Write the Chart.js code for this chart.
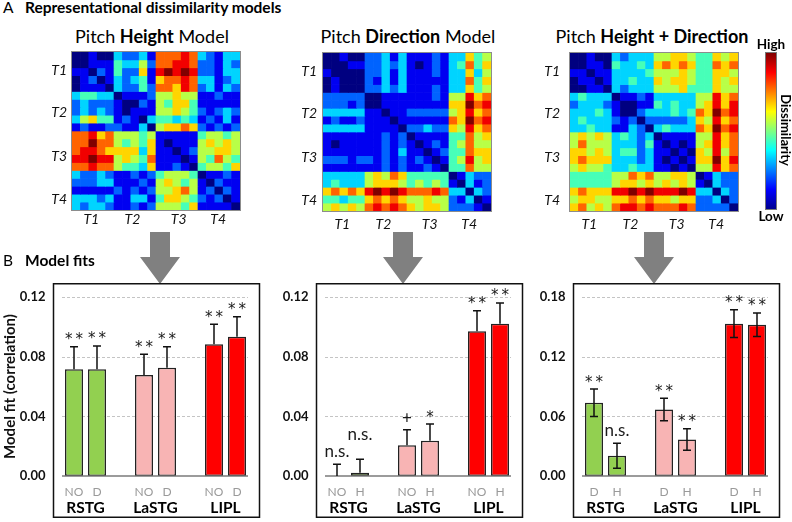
<!DOCTYPE html>
<html>
<head>
<meta charset="utf-8">
<title>Representational dissimilarity models and model fits</title>
<script src="https://cdn.jsdelivr.net/npm/chart.js@4.4.1/dist/chart.umd.min.js"></script>
<style>
  html, body { margin: 0; padding: 0; background: #fff; }
  #fig { position: relative; width: 792px; height: 522px; overflow: hidden; font-family: Lato, "Open Sans", sans-serif; color: #000; }
  #fig > * { position: absolute; }
  .lbl { line-height: 1; white-space: nowrap; }
  .ctr { text-align: center; }
  canvas { display: block; }
</style>
</head>
<body>
<div id="fig">
  <div class="lbl" style="left:3px; top:0px; font-size:15.5px;">A</div>
  <div class="lbl" style="left:25px; top:0px; font-size:15.5px; font-weight:bold;">Representational dissimilarity models</div>

  <div class="lbl ctr" style="left:52px; width:200px; top:27px; font-size:18px;">Pitch <b>Height</b> Model</div>
  <div class="lbl ctr" style="left:308px; width:200px; top:27px; font-size:18px;">Pitch <b>Direction</b> Model</div>
  <div class="lbl ctr" style="left:542px; width:220px; top:27px; font-size:18px;">Pitch <b>Height + Direction</b></div>

  <canvas id="hmHeight" width="210" height="184" style="left:40px; top:48px;"></canvas>
  <canvas id="hmDirection" width="210" height="184" style="left:291px; top:48px;"></canvas>
  <canvas id="hmCombined" width="210" height="184" style="left:538px; top:48px;"></canvas>

  <div class="lbl ctr" style="left:741px; width:60px; top:38px; font-size:13.5px; font-weight:bold;">High</div>
  <div style="left:765px; top:52px; width:12px; height:158px; box-sizing:border-box; border:1px solid #777;
       background:linear-gradient(to top, #00008f 0%, #0000ff 12.5%, #00ffff 37.5%, #ffff00 62.5%, #ff0000 87.5%, #800000 100%);"></div>
  <div class="lbl ctr" style="left:741px; width:60px; top:210px; font-size:13.5px; font-weight:bold;">Low</div>
  <div class="lbl ctr" style="left:735px; width:100px; top:123px; height:14px; font-size:13px; font-weight:bold; transform:rotate(90deg);">Dissimilarity</div>

  <svg width="792" height="522" style="left:0; top:0;">
    <polygon fill="#808080" points="150,232 170,232 170,257 180,257 160,284 140,257 150,257"/>
    <polygon fill="#808080" points="393,232 413,232 413,257 423,257 403,284 383,257 393,257"/>
    <polygon fill="#808080" points="644,232 664,232 664,257 674,257 654,284 634,257 644,257"/>
  </svg>

  <div class="lbl" style="left:3px; top:253px; font-size:15.5px;">B</div>
  <div class="lbl" style="left:25px; top:253px; font-size:15.5px; font-weight:bold;">Model fits</div>

  <canvas id="fitHeight" width="262" height="236" style="left:0px; top:283px;"></canvas>
  <canvas id="fitDirection" width="262" height="236" style="left:263px; top:283px;"></canvas>
  <canvas id="fitCombined" width="262" height="236" style="left:520px; top:283px;"></canvas>
</div>

<script>
// ---- Panel A: model RDMs, dissimilarity level 0 (low) .. 9 (high), one string per row ----
const blockLabels = ['T1', 'T2', 'T3', 'T4'];
const blockTickX = [2.3, 7.2, 12.7, 17.4];   // cells from the left edge
const blockTickY = [2.4, 7.6, 13.2, 18.7];   // cells from the top edge
const levelMax = 9;

const heightRows = [
  '00100322317778732133',
  '00111433527788722132',
  '11021422618989822133',
  '01201323416778733123',
  '01110322427768723132',
  '34433011125565511211',
  '23222100215466411111',
  '23232101115565421232',
  '35644121034434312131',
  '12112211305667621212',
  '77867555451111145545',
  '77977545461011156565',
  '78876666361101255665',
  '88988565471110154754',
  '77877544361121045546',
  '32232112124555401121',
  '22233111215654510211',
  '11111212125567512021',
  '33323113314665421201',
  '32332112125554611110'
];

const directionRows = [
  '00100223131112133645',
  '00011223231012134746',
  '10000223131112133635',
  '01000213131111133746',
  '01000223231112133645',
  '22222001111112155867',
  '22212001111111166978',
  '33333110112222256867',
  '12112111011111176978',
  '33333111102232265867',
  '11111112120111144756',
  '10111112121012145755',
  '11111112131101244766',
  '22212212121210145856',
  '11111112121121044755',
  '33333565764444401322',
  '34333566654545410312',
  '67676898987778733032',
  '44344676765565521301',
  '56565787876566522210'
];

const combinedRows = [
  '00100323335566544656',
  '00110433436767644767',
  '11011333345556544665',
  '01101334336566544656',
  '00110323335556444655',
  '34333011213333355867',
  '23332100114343356868',
  '33343100233343476978',
  '34333212022222365867',
  '33433113203433376978',
  '56565343230111155867',
  '57555333241010156867',
  '66565344231101065857',
  '67666333231010166968',
  '56554334331101055867',
  '44444557675566501322',
  '44444566565656510322',
  '67666889898889833032',
  '56655667676656622302',
  '67565788787778722220'
];

// ---- Panel B: model fits (correlation) ----
const regions = ['RSTG', 'LaSTG', 'LIPL'];
const regionColors = ['#92D050', '#F8B4B4', '#FF0000'];

const heightSub = ['NO', 'D'];
const heightFit = [[0.0715, 0.0677, 0.0883], [0.0715, 0.0726, 0.0934]];
const heightErr = [[0.0152, 0.0139, 0.0134], [0.0157, 0.0141, 0.0134]];
const heightSig = [['**', '**', '**'], ['**', '**', '**']];

const directionSub = ['NO', 'H'];
const directionFit = [[0.0, 0.0206, 0.0971], [0.0022, 0.0236, 0.1021]];
const directionErr = [[0.0079, 0.0104, 0.0137], [0.0090, 0.0112, 0.0139]];
const directionSig = [['n.s.', '+', '**'], ['n.s.', '*', '**']];

const combinedSub = ['D', 'H'];
const combinedFit = [[0.0736, 0.0669, 0.1532], [0.0204, 0.0368, 0.1522]];
const combinedErr = [[0.0138, 0.0114, 0.0139], [0.0125, 0.0108, 0.0118]];
const combinedSig = [['**', '**', '**'], ['n.s.', '**', '**']];

// ---------------------------------------------------------------

function jet(v) {
  const c = x => Math.round(255 * Math.min(1, Math.max(0, x)));
  return 'rgb(' + c(1.5 - Math.abs(4 * v - 3)) + ',' + c(1.5 - Math.abs(4 * v - 2)) + ',' + c(1.5 - Math.abs(4 * v - 1)) + ')';
}

const heatLabels = {
  id: 'heatLabels',
  afterDraw(chart, args, opts) {
    const { ctx, chartArea: a, scales: { x, y } } = chart;
    ctx.save();
    ctx.strokeStyle = '#8c8c8c';
    ctx.lineWidth = 1;
    ctx.strokeRect(a.left - 0.5, a.top - 0.5, a.width + 1, a.height + 1);
    ctx.fillStyle = '#111';
    ctx.font = 'italic 14px Lato';
    ctx.textBaseline = 'middle';
    ctx.textAlign = 'center';
    blockLabels.forEach((t, i) => ctx.fillText(t, x.getPixelForValue(blockTickX[i] - 0.5), a.bottom + opts.xGap));
    ctx.textAlign = 'right';
    blockLabels.forEach((t, i) => ctx.fillText(t, a.left - opts.yGap, y.getPixelForValue(blockTickY[i])));
    ctx.restore();
  }
};

function heatmap(id, rows, pad, xGap, yGap) {
  new Chart(document.getElementById(id), {
    type: 'bar',
    data: {
      labels: rows[0].split('').map((_, j) => j + 1),
      datasets: rows.map((row, r) => ({
        data: row.split('').map(() => [r, r + 1]),
        backgroundColor: row.split('').map(d => jet(Number(d) / levelMax)),
        borderWidth: 0,
        grouped: false,
        barPercentage: 1,
        categoryPercentage: 1
      }))
    },
    options: {
      responsive: false,
      animation: false,
      layout: { padding: pad },
      plugins: { legend: { display: false }, tooltip: { enabled: false }, heatLabels: { xGap: xGap, yGap: yGap } },
      scales: {
        x: { display: false, offset: true },
        y: { display: false, min: 0, max: rows.length, reverse: true }
      }
    },
    plugins: [heatLabels]
  });
}

heatmap('hmHeight', heightRows, { left: 32, top: 4, right: 10, bottom: 22 }, 9, 5);
heatmap('hmDirection', directionRows, { left: 32, top: 5, right: 10, bottom: 21 }, 13, 6);
heatmap('hmCombined', combinedRows, { left: 32, top: 5, right: 10, bottom: 21 }, 13, 10);

// look of each significance mark: font and baseline lift above its error bar
const markStyle = {
  '**': { font: '15px "DejaVu Sans"', lift: 2.5 },
  '*': { font: '15px "DejaVu Sans"', lift: 2.5 },
  '+': { font: '17px Lato', lift: 5.5 },
  'n.s.': { font: '17px Lato', lift: 7 }
};

function barSpan(chart) {
  let lo = Infinity, hi = -Infinity;
  chart.data.datasets.forEach((d, k) => chart.getDatasetMeta(k).data.forEach(b => {
    lo = Math.min(lo, b.x - b.width / 2);
    hi = Math.max(hi, b.x + b.width / 2);
  }));
  return [lo - 3, hi + 2];
}

const fitExtras = {
  id: 'fitExtras',
  beforeDatasetsDraw(chart) {
    const { ctx, scales: { y } } = chart;
    const [left, right] = barSpan(chart);
    ctx.save();
    ctx.strokeStyle = '#c4c4c4';
    ctx.lineWidth = 1;
    ctx.setLineDash([3, 2]);
    y.ticks.forEach(t => {
      if (t.value <= 0) return;
      const py = Math.round(y.getPixelForValue(t.value)) + 0.5;
      ctx.beginPath();
      ctx.moveTo(left, py);
      ctx.lineTo(right, py);
      ctx.stroke();
    });
    ctx.restore();
  },
  afterDatasetsDraw(chart, args, o) {
    const { ctx, chartArea: a, scales: { x, y } } = chart;
    const [left, right] = barSpan(chart);
    ctx.save();
    const y0 = y.getPixelForValue(0);
    ctx.strokeStyle = '#7a7a7a';
    ctx.lineWidth = 1.5;
    ctx.beginPath();
    ctx.moveTo(left, y0);
    ctx.lineTo(right, y0);
    ctx.stroke();

    const placed = [];   // marks already drawn, per region
    chart.data.datasets.forEach((ds, k) => {
      chart.getDatasetMeta(k).data.forEach((bar, i) => {
        const v = ds.data[i], e = o.errors[k][i];
        const top = y.getPixelForValue(v + e);
        const bot = y.getPixelForValue(o.twoSided ? v - e : v);
        ctx.strokeStyle = '#111';
        ctx.lineWidth = 1.5;
        ctx.beginPath();
        ctx.moveTo(bar.x, bot);
        ctx.lineTo(bar.x, top);
        ctx.moveTo(bar.x - 4, top);
        ctx.lineTo(bar.x + 4, top);
        if (o.twoSided) {
          ctx.moveTo(bar.x - 4, bot);
          ctx.lineTo(bar.x + 4, bot);
        }
        ctx.stroke();

        const m = o.marks[k][i];
        const st = markStyle[m];
        const txt = m === '**' ? '*\u2009*' : m;
        ctx.fillStyle = '#1a1a1a';
        ctx.font = st.font;
        ctx.textAlign = 'center';
        ctx.textBaseline = 'alphabetic';
        const w = ctx.measureText(txt).width;
        let by = top - st.lift;
        const prev = placed[i];
        if (prev && Math.abs(prev.x - bar.x) < (prev.w + w) / 2 + 2 && Math.abs(prev.y - by) < 14) {
          by = prev.y - 17;
        }
        placed[i] = { x: bar.x, y: by, w: w };
        ctx.fillText(txt, bar.x, by);

        ctx.fillStyle = '#9a9a9a';
        ctx.font = '12px Lato';
        ctx.textBaseline = 'middle';
        ctx.fillText(o.sub[k], bar.x, a.bottom + 16.5);
      });
    });

    ctx.fillStyle = '#000';
    ctx.font = 'bold 15.5px Lato';
    ctx.textAlign = 'center';
    ctx.textBaseline = 'middle';
    chart.data.labels.forEach((l, i) => ctx.fillText(l, x.getPixelForValue(i), a.bottom + 32));

    ctx.strokeStyle = '#111';
    ctx.lineWidth = 1.5;
    ctx.strokeRect(53.5, 0.75, 206, 233.5);
    ctx.restore();
  }
};

function fitChart(id, sub, fits, errs, sig, yMax, yStep, twoSided, yTitle) {
  new Chart(document.getElementById(id), {
    type: 'bar',
    data: {
      labels: regions,
      datasets: fits.map((vals, k) => ({
        label: sub[k],
        data: vals,
        backgroundColor: regionColors,
        borderColor: '#222',
        borderWidth: 1.5,
        borderSkipped: false,
        categoryPercentage: 0.657,
        barPercentage: 0.783
      }))
    },
    options: {
      responsive: false,
      animation: false,
      layout: { padding: { top: 14, bottom: 43, left: 0, right: 1.5 } },
      plugins: {
        legend: { display: false },
        tooltip: { enabled: false },
        fitExtras: { errors: errs, marks: sig, sub: sub, twoSided: twoSided }
      },
      scales: {
        x: { display: false, offset: true },
        y: {
          min: 0,
          max: yMax,
          ticks: {
            stepSize: yStep,
            padding: 5,
            color: '#111',
            font: { family: 'Lato', size: 13, weight: 'bold' },
            callback: v => v.toFixed(2)
          },
          grid: { display: false, drawTicks: false },
          border: { display: false },
          title: {
            display: !!yTitle,
            text: yTitle || '',
            color: '#111',
            padding: { top: 1, bottom: 0 },
            font: { family: 'Lato', size: 15, weight: 'bold' }
          },
          afterFit: s => { s.width = 50.5; }
        }
      }
    },
    plugins: [fitExtras]
  });
}

fitChart('fitHeight', heightSub, heightFit, heightErr, heightSig, 0.12, 0.04, false, 'Model fit (correlation)');
fitChart('fitDirection', directionSub, directionFit, directionErr, directionSig, 0.12, 0.04, false, null);
fitChart('fitCombined', combinedSub, combinedFit, combinedErr, combinedSig, 0.18, 0.06, true, null);
</script>
</body>
</html>
